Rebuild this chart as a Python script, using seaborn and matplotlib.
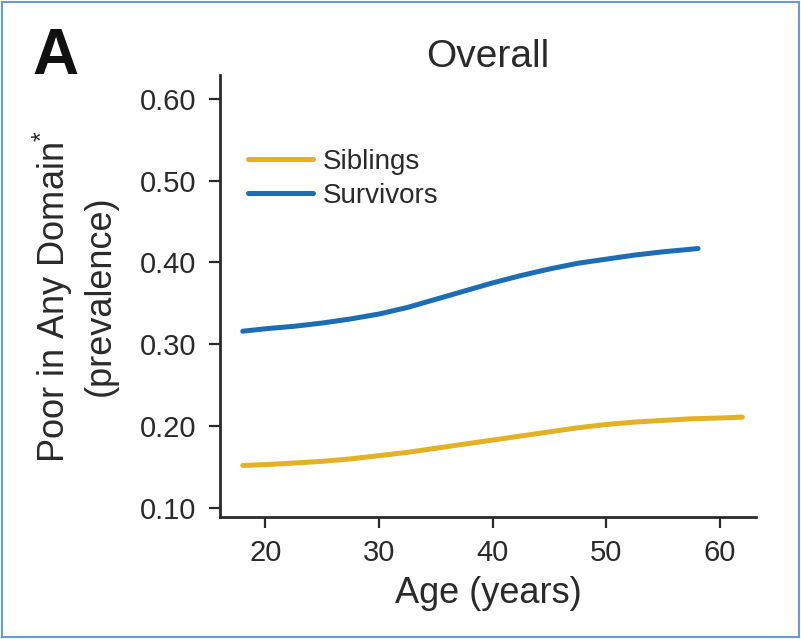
import matplotlib
matplotlib.use("Agg")
import matplotlib.pyplot as plt
import matplotlib.patches as mpatches
import numpy as np
import pandas as pd
import seaborn as sns

# Prevalence of poor outcome in any domain, by attained age
ages_survivors = [18.0, 20.0, 22.5, 25.0, 27.5, 30.0, 32.5, 35.0, 37.5, 40.0,
                  42.5, 45.0, 47.5, 50.0, 52.5, 55.0, 58.1]
prev_survivors = [0.316, 0.319, 0.322, 0.326, 0.331, 0.337, 0.345, 0.355, 0.365,
                  0.375, 0.384, 0.392, 0.399, 0.404, 0.409, 0.413, 0.417]

ages_siblings = [18.0, 20.0, 22.5, 25.0, 27.5, 30.0, 32.5, 35.0, 37.5, 40.0,
                 42.5, 45.0, 47.5, 50.0, 52.5, 55.0, 57.5, 60.0, 62.0]
prev_siblings = [0.152, 0.153, 0.155, 0.157, 0.160, 0.164, 0.168, 0.173, 0.178,
                 0.183, 0.188, 0.193, 0.198, 0.202, 0.205, 0.207, 0.209, 0.210, 0.211]

group_names = ["Siblings", "Survivors"]
group_colors = ["#e3b124", "#1c6db3"]

x_ticks = [20, 30, 40, 50, 60]
y_ticks = [0.10, 0.20, 0.30, 0.40, 0.50, 0.60]

df = pd.concat([
    pd.DataFrame({"age": ages_siblings, "prev": prev_siblings, "group": "Siblings"}),
    pd.DataFrame({"age": ages_survivors, "prev": prev_survivors, "group": "Survivors"}),
], ignore_index=True)

sns.set_theme(style="ticks")
plt.rcParams["font.family"] = ["Liberation Sans", "DejaVu Sans"]
plt.rcParams["mathtext.fontset"] = "custom"
plt.rcParams["mathtext.rm"] = "Liberation Sans"
plt.rcParams["mathtext.it"] = "Liberation Sans"

ink = "#2a2a2a"

fig = plt.figure(figsize=(8.01, 6.39), dpi=100)
ax = fig.add_axes([0.2747, 0.1909, 0.6691, 0.6917])

sns.lineplot(data=df, x="age", y="prev", hue="group", hue_order=group_names,
             palette=dict(zip(group_names, group_colors)), linewidth=3.6,
             sort=True, estimator=None, ax=ax, legend=False)

ax.set_xlim(16.0, 63.2)
ax.set_ylim(0.089, 0.629)
ax.set_xticks(x_ticks)
ax.set_yticks(y_ticks)
ax.set_xticklabels([str(v) for v in x_ticks])
ax.set_yticklabels([f"{v:.2f}" for v in y_ticks])

for side in ["top", "right"]:
    ax.spines[side].set_visible(False)
for side in ["left", "bottom"]:
    ax.spines[side].set_linewidth(2.0)
    ax.spines[side].set_color(ink)

ax.tick_params(axis="both", direction="out", length=8, width=1.6, color=ink,
               labelsize=21, labelcolor=ink)
ax.tick_params(axis="y", pad=9)
ax.tick_params(axis="x", pad=8)

ax.set_xlabel("Age (years)", fontsize=26, color=ink, labelpad=6)
ax.set_ylabel("Poor in Any Domain$^{*}$\n(prevalence)", fontsize=26, color=ink,
              labelpad=16, linespacing=1.3)

ax.set_title("Overall", fontsize=28, color=ink, pad=1)

handles = [plt.Line2D([], [], color=c, linewidth=3.6) for c in group_colors]
ax.legend(handles, group_names, loc="upper left", bbox_to_anchor=(0.005, 0.89),
          frameon=False, fontsize=20, handlelength=2.35, handletextpad=0.36,
          labelspacing=0.3, labelcolor=ink)

fig.text(32 / 801, 1 - 74 / 639, "A", fontsize=46, fontweight="bold",
         color="#111111", ha="left", va="baseline")

# thin blue frame around the panel
fig.patches.append(mpatches.Rectangle((0.003, 0.003), 0.994, 0.994,
                                      transform=fig.transFigure, fill=False,
                                      edgecolor="#6a9ad6", linewidth=1.5))

fig.savefig("out.png", dpi=100, facecolor="white")
